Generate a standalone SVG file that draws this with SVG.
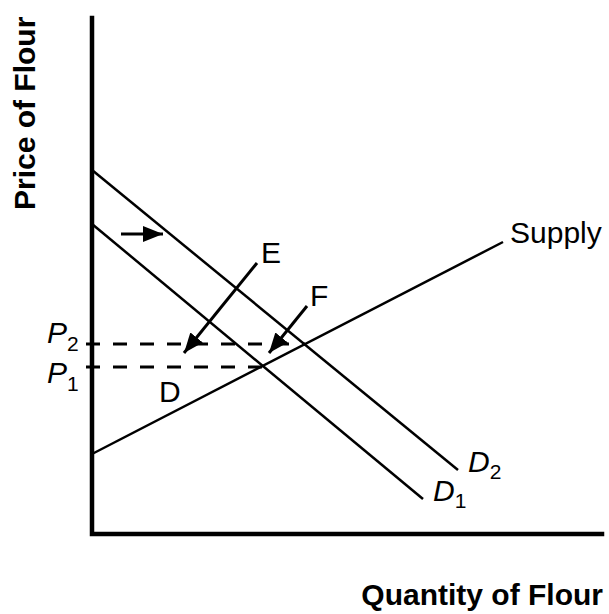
<svg xmlns="http://www.w3.org/2000/svg" width="609" height="614" viewBox="0 0 609 614">
<style>
.ax{stroke:#000;stroke-width:4.5;fill:none;stroke-linecap:square}
.cv{stroke:#000;stroke-width:2.5;fill:none}
.dash{stroke:#000;stroke-width:3;fill:none;stroke-dasharray:14 13}
.arr{stroke:#000;stroke-width:3;fill:none;marker-end:url(#ah)}
.lab{font-family:"Liberation Sans",Arial,sans-serif;font-size:30px;fill:#000}
.it{font-style:italic}
.sub{font-size:21px}
.ttl{font-family:"Liberation Sans",Arial,sans-serif;font-size:30px;font-weight:bold;fill:#000}
</style>
<defs>
<marker id="ah" markerUnits="userSpaceOnUse" markerWidth="22" markerHeight="16" refX="20" refY="8" orient="auto">
<path d="M0,0 L20,8 L0,16 Z" fill="#000"/>
</marker>
</defs>
<rect width="609" height="614" fill="#fff"/>
<g id="axes">
<path class="ax" d="M92,18 L92,534 L602,534"/>
</g>
<g id="titles">
<text class="ttl" transform="translate(35,210) rotate(-90)">Price of Flour</text>
<text class="ttl" x="603" y="605" text-anchor="end">Quantity of Flour</text>
</g>
<g id="guides">
<line class="dash" x1="86" y1="367" x2="263" y2="367"/>
<line class="dash" x1="86" y1="344" x2="305" y2="344"/>
</g>
<g id="supply">
<line class="cv" x1="92" y1="454" x2="503" y2="242"/>
<text class="lab" x="510" y="243">Supply</text>
</g>
<g id="demand1">
<line class="cv" x1="92" y1="224" x2="423" y2="499"/>
<text class="lab" x="433" y="501"><tspan class="it">D</tspan><tspan class="sub" dy="7">1</tspan></text>
</g>
<g id="demand2">
<line class="cv" x1="92" y1="170" x2="458" y2="470"/>
<text class="lab" x="468" y="472"><tspan class="it">D</tspan><tspan class="sub" dy="7">2</tspan></text>
</g>
<g id="price-labels">
<text class="lab" x="47" y="343"><tspan class="it">P</tspan><tspan class="sub" dy="8">2</tspan></text>
<text class="lab" x="47" y="383"><tspan class="it">P</tspan><tspan class="sub" dy="8">1</tspan></text>
</g>
<g id="point-labels">
<text class="lab" x="261" y="263">E</text>
<text class="lab" x="310" y="306">F</text>
<text class="lab" x="159" y="402">D</text>
</g>
<g id="connectors">
<line class="arr" x1="121" y1="234" x2="163" y2="234"/>
<line class="arr" x1="257" y1="263" x2="184" y2="353"/>
<line class="arr" x1="307" y1="306" x2="269" y2="353"/>
</g>
</svg>
